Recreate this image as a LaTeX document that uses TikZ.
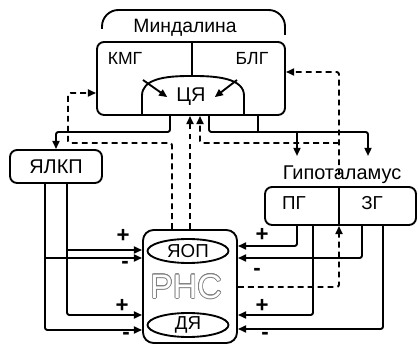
\documentclass[tikz,border=0pt]{standalone}
\usepackage{fontspec}
\setmainfont{Liberation Sans}
\usepackage[copies]{contour}
\contourlength{0.6pt}
\usepackage{tikz}
\usetikzlibrary{arrows.meta,positioning,shapes.geometric}
\newcommand\pxl{0.03cm}
\newcommand\fs[1]{\fontsize{#1}{#1}\selectfont}

\begin{document}
\begin{tikzpicture}[x=0.03cm, y=-0.03cm,
        blk/.style={draw, line width=1.6pt, rounded corners=6pt, inner sep=0pt},
        oval/.style={draw, ellipse, line width=1.6pt, inner sep=0pt, font=\fs{16}},
        lbl/.style={inner sep=0pt, anchor=base},
        wire/.style={line width=1.6pt, rounded corners=2pt},
        bus/.style={wire, -{Triangle[length=7pt,width=6pt]}},
        fb/.style={bus, dash pattern=on 5pt off 3.5pt},
        sign/.style={inner sep=0pt, font=\fs{19}\bfseries},
      ]
        \useasboundingbox (0,0) rectangle (418,346);

        % amygdala
        \node[lbl, font=\fs{16.5}] (amylbl) at (185,33) {Миндалина};
        \draw[wire, rounded corners=14pt] (102,29) -- (102,10) -- (285,10) -- (285,35);
        \node[blk, minimum width=188*\pxl, minimum height=73*\pxl] (amy) at (191,78.5) {};
        \node[lbl, font=\fs{15}] (kmg) at (125,65) {КМГ};
        \node[lbl, font=\fs{15}] (blg) at (252,65) {БЛГ};
        \node[lbl, font=\fs{17}, minimum width=47*\pxl] (cja) at (191,102) {ЦЯ};
        \draw[wire] (192,0 |- amy.north) -- (192,76);
        \draw[wire] (142,0 |- amy.south) -- (142,98) .. controls (142,79) and (165,76) .. (192,76)
          .. controls (219,76) and (244,79) .. (244,98) -- (244,0 |- amy.south);
        \draw[bus] (143,80) -- (cja.west);
        \draw[bus] (237,80) -- (cja.east);

        % left and right side
        \node[blk, minimum width=92*\pxl, minimum height=33*\pxl, font=\fs{17}] (jalkp) at (56,166.5) {ЯЛКП};
        \node[lbl, font=\fs{17}] (hyplbl) at (342,180) {Гипоталамус};
        \coordinate (hyptop) at (342,156);
        \node[blk, minimum width=151*\pxl, minimum height=38*\pxl] (hyp) at (340.5,206) {};
        \draw[wire] (339,0 |- hyp.north) -- (339,0 |- hyp.south);
        \node[lbl, font=\fs{16}] (pg) at (294,210) {ПГ};
        \node[lbl, font=\fs{16}] (zg) at (372,210) {ЗГ};

        % RNS
        \node[blk, rounded corners=9pt, minimum width=94*\pxl, minimum height=113*\pxl] (rns) at (190,286.5) {};
        \node[inner sep=0pt, font=\fs{29}] (rnstxt) at (186,287) {\contour{gray}{\textcolor{white}{РНС}}};
        \node[oval, minimum width=81*\pxl, minimum height=24*\pxl] (jaop) at (188,251) {ЯОП};
        \node[oval, minimum width=81*\pxl, minimum height=24*\pxl] (dja) at (188,325) {ДЯ};

        % amygdala outputs
        \draw[bus] (amy.south -| 170,0) |- (jalkp.north |- 0,132) -- (jalkp.north);
        \draw[bus] (amy.south -| 209,0) |- (368,132) -- (368,0 |- hyptop);
        \draw[wire] (amy.south -| 258,0) -- (258,132);
        \draw[bus] (297,132) -- (297,0 |- hyptop);

        % JALKP -> RNS
        \draw[bus] (jalkp.south -| 67,0) |- (rns.west |- 0,315);
        \draw[bus] (67,250) -- (rns.west |- 0,250);
        \draw[bus] (jalkp.south -| 45,0) |- (rns.west |- 0,330);
        \draw[bus] (45,258) -- (rns.west |- 0,258);

        % hypothalamus -> RNS
        \draw[bus] (hyp.south -| 297,0) |- (rns.east |- 0,246);
        \draw[bus] (hyp.south -| 362,0) |- (rns.east |- 0,258);
        \draw[bus] (hyp.south -| 313,0) |- (rns.east |- 0,315);
        \draw[bus] (hyp.south -| 383,0) |- (rns.east |- 0,329);

        % feedback
        \draw[fb] (rns.north -| 172,0) |- (68,143) |- (amy.west |- 0,93);
        \draw[fb] (rns.north -| 190,0) -- (amy.south -| 190,0);
        \draw[fb] (hyplbl.center -| 339,0) |- (amy.east |- 0,72);
        \draw[fb] (339,143) -| (amy.south -| 200,0);
        \draw[fb] (rns.east |- 0,287) -| (hyp.south -| 339,0);

        % signs
        \node[sign] (s1) at (123,236) {+};
        \node[sign] (s2) at (125,265) {-};
        \node[sign] (s3) at (122,306) {+};
        \node[sign] (s4) at (126,336) {-};
        \node[sign] (s5) at (262,235) {+};
        \node[sign] (s6) at (257,272) {-};
        \node[sign] (s7) at (262,306) {+};
        \node[sign] (s8) at (265,336) {-};
      \end{tikzpicture}
\end{document}
